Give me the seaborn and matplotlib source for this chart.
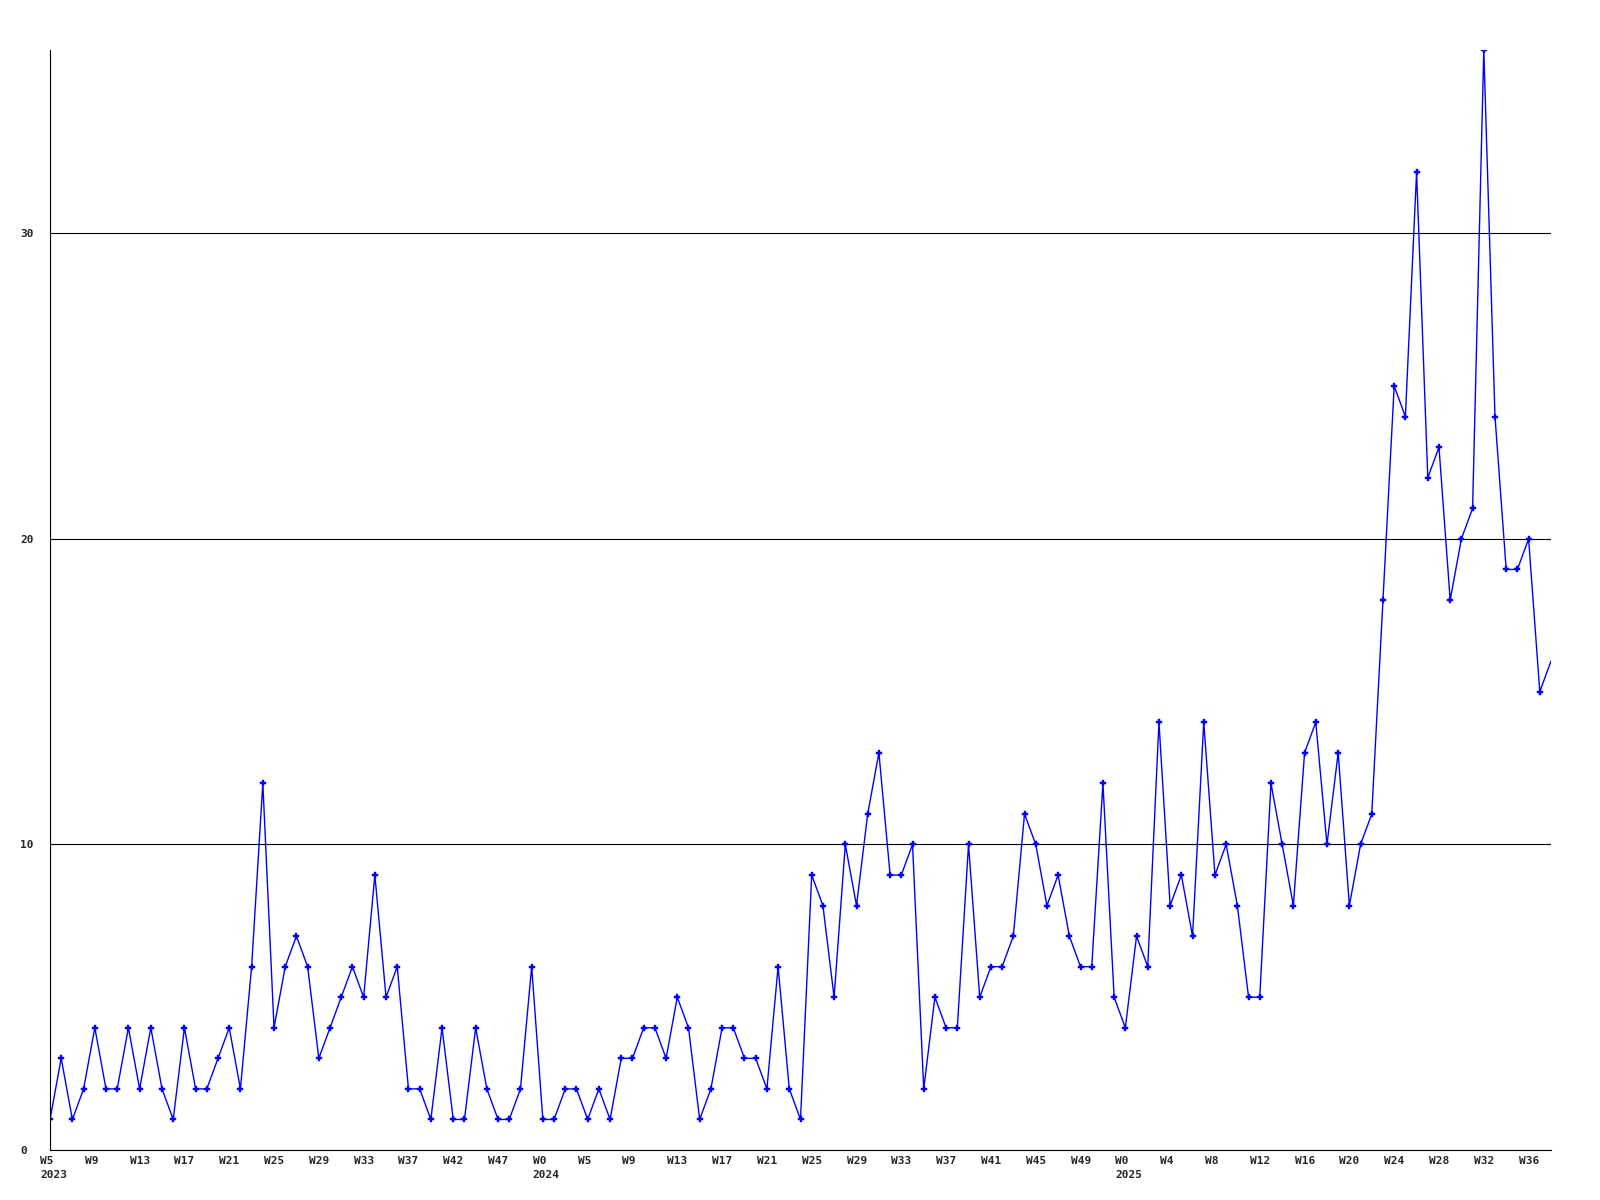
"""
Weekly counts, 2023 W5 to 2025 W37, drawn as a plain line chart with markers.
"""

import numpy as np
import pandas as pd
import matplotlib
matplotlib.use("Agg")
import matplotlib.pyplot as plt
import matplotlib.transforms as mtransforms
import seaborn as sns

# weekly values, one per week starting at 2023 W5
week_counts = [
    1, 3, 1, 2, 4, 2, 2, 4, 2, 4,
    2, 1, 4, 2, 2, 3, 4, 2, 6, 12,
    4, 6, 7, 6, 3, 4, 5, 6, 5, 9,
    5, 6, 2, 2, 1, 4, 1, 1, 4, 2,
    1, 1, 2, 6, 1, 1, 2, 2, 1, 2,
    1, 3, 3, 4, 4, 3, 5, 4, 1, 2,
    4, 4, 3, 3, 2, 6, 2, 1, 9, 8,
    5, 10, 8, 11, 13, 9, 9, 10, 2, 5,
    4, 4, 10, 5, 6, 6, 7, 11, 10, 8,
    9, 7, 6, 6, 12, 5, 4, 7, 6, 14,
    8, 9, 7, 14, 9, 10, 8, 5, 5, 12,
    10, 8, 13, 14, 10, 13, 8, 10, 11, 18,
    25, 24, 32, 22, 23, 18, 20, 21, 36, 24,
    19, 19, 20, 15, 16,
]

# x tick labels, one every 4 weeks
labels_2023 = ["W5", "W9", "W13", "W17", "W21", "W25", "W29", "W33",
               "W37", "W42", "W47"]
labels_2024 = ["W0", "W5", "W9", "W13", "W17", "W21", "W25", "W29",
               "W33", "W37", "W41", "W45", "W49"]
labels_2025 = ["W0", "W4", "W8", "W12", "W16", "W20", "W24", "W28",
               "W32", "W36"]
year_starts = {"2023": labels_2023, "2024": labels_2024, "2025": labels_2025}

y_ticks = [0, 10, 20, 30]


def build_tick_labels() -> list:
    """Week labels, with the year under the first label of each year."""
    out = []
    for year, labels in year_starts.items():
        for i, lab in enumerate(labels):
            out.append(f"{lab}\n{year}" if i == 0 else lab)
    return out


def main() -> None:
    df = pd.DataFrame({"week": np.arange(len(week_counts)),
                       "count": week_counts})

    sns.set_style("white")
    plt.rcParams["font.family"] = ["DejaVu Sans Mono"]
    plt.rcParams["font.weight"] = "bold"

    fig, ax = plt.subplots(figsize=(16, 12), dpi=100)
    fig.subplots_adjust(left=50 / 1600, right=1551 / 1600,
                        top=1 - 50 / 1200, bottom=1 - 1150 / 1200)

    # last point sits on the right edge, so leave its marker off
    sns.lineplot(data=df, x="week", y="count", ax=ax,
                 color="#0000ff", linewidth=1.0,
                 marker="P", markersize=4, markeredgewidth=0.3,
                 markeredgecolor="#0000ff",
                 markevery=list(range(len(week_counts) - 1)))

    ax.set_xlim(0, len(week_counts) - 1)
    ax.set_ylim(0, 36)

    tick_pos = df["week"].iloc[::4].tolist()
    ax.set_xticks(tick_pos)
    ax.set_xticklabels(build_tick_labels(), fontsize=8, fontweight="bold",
                       ha="left", linespacing=1.6)
    ax.set_yticks(y_ticks)
    ax.set_yticklabels([str(v) for v in y_ticks], fontsize=8,
                       fontweight="bold", ha="left")

    ax.tick_params(axis="x", length=0, pad=4)
    ax.tick_params(axis="y", length=0, pad=21.6)

    # shift the week labels so they start a little left of their tick
    shift = mtransforms.ScaledTranslation(-10 / 100, 0, fig.dpi_scale_trans)
    for lab in ax.get_xticklabels():
        lab.set_transform(lab.get_transform() + shift)

    ax.yaxis.grid(True, color="black", linewidth=0.8)
    ax.xaxis.grid(False)
    ax.set_axisbelow(True)

    for side in ("top", "right"):
        ax.spines[side].set_visible(False)
    for side in ("left", "bottom"):
        ax.spines[side].set_color("black")
        ax.spines[side].set_linewidth(0.8)

    ax.set_xlabel("")
    ax.set_ylabel("")

    fig.savefig("out.png", dpi=100)
    plt.close(fig)


if __name__ == "__main__":
    main()
